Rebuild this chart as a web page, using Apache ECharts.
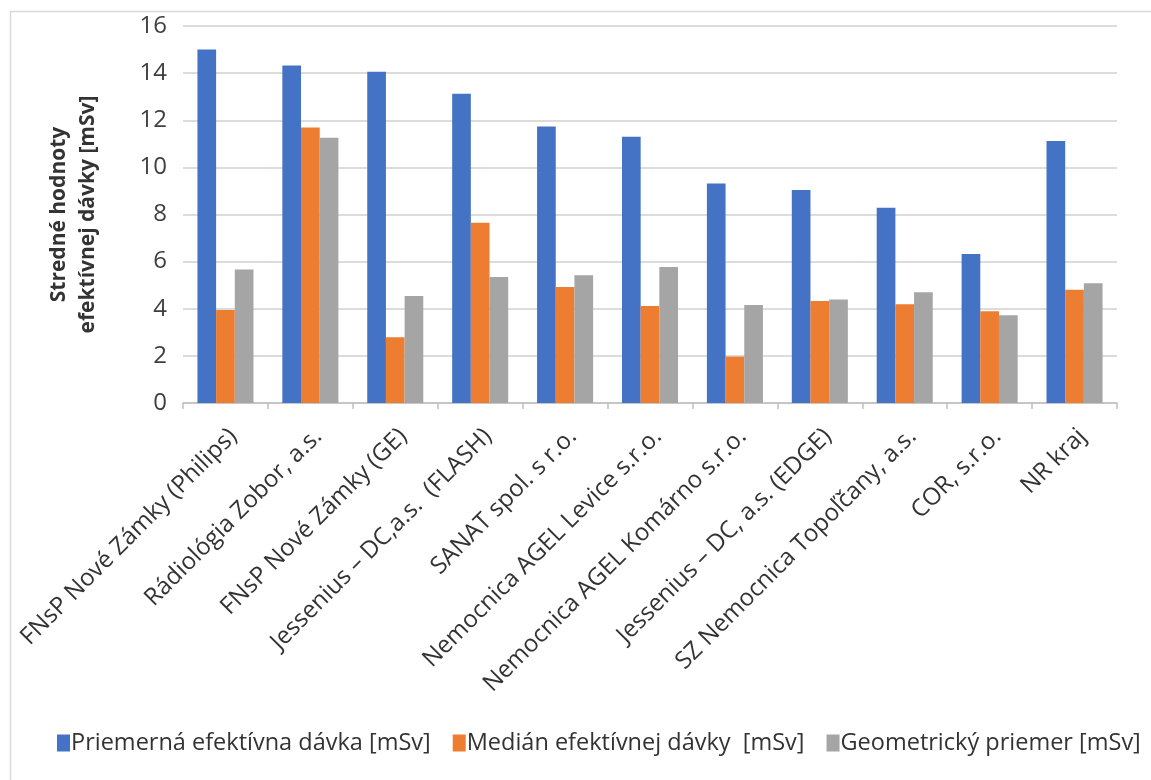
<!DOCTYPE html>
<html>
<head>
<meta charset="utf-8">
<script src="https://cdn.jsdelivr.net/npm/echarts@6/dist/echarts.min.js"></script>
<style>
html,body{margin:0;padding:0;background:#fff;}
#chart{width:1151px;height:780px;}
</style>
</head>
<body>
<div id="chart"></div>
<script>
const categories = [
  "FNsP Nové Zámky (Philips)",
  "Rádiológia Zobor, a.s.",
  "FNsP Nové Zámky (GE)",
  "Jessenius – DC,a.s.  (FLASH)",
  "SANAT spol. s r.o.",
  "Nemocnica AGEL Levice s.r.o.",
  "Nemocnica AGEL Komárno s.r.o.",
  "Jessenius – DC, a.s. (EDGE)",
  "SZ Nemocnica Topoľčany, a.s.",
  "COR, s.r.o.",
  "NR kraj"
];
const seriesNames = [
  "Priemerná efektívna dávka [mSv]",
  "Medián efektívnej dávky  [mSv]",
  "Geometrický priemer [mSv]"
];
const priemerna = [15.0, 14.32, 14.06, 13.12, 11.73, 11.30, 9.32, 9.04, 8.29, 6.32, 11.12];
const median = [3.95, 11.69, 2.79, 7.65, 4.92, 4.12, 1.97, 4.33, 4.19, 3.89, 4.81];
const geometricky = [5.67, 11.26, 4.54, 5.35, 5.42, 5.77, 4.16, 4.39, 4.70, 3.72, 5.08];
const yTicks = [0, 2, 4, 6, 8, 10, 12, 14, 16];
const colors = ["#4472C4", "#ED7D31", "#A5A5A5"];

const chart = echarts.init(document.getElementById('chart'), null, {renderer: 'canvas'});
const font = "'Open Sans', 'Noto Sans', sans-serif";
chart.setOption({
  animation: false,
  color: colors,
  textStyle: {fontFamily: font},
  graphic: [{
    type: 'rect', left: 8, top: 9, shape: {width: 1170, height: 800},
    style: {fill: 'none', stroke: '#d9d9d9', lineWidth: 1.5}, silent: true, z: -1
  }],
  legend: {
    bottom: 20, left: 52,
    itemWidth: 13, itemHeight: 17, itemGap: 22,
    icon: 'rect',
    textStyle: {fontFamily: font, fontSize: 23.5, color: '#333', padding: [0, 0, 0, -4]},
    data: seriesNames
  },
  grid: {left: 183, right: 34, top: 26, bottom: 377, containLabel: false},
  xAxis: {
    type: 'category',
    data: categories,
    axisLine: {lineStyle: {color: '#bfbfbf', width: 1.5}},
    axisTick: {show: true, length: 6, lineStyle: {color: '#bfbfbf', width: 1.5}},
    axisLabel: {rotate: 45, interval: 0, fontFamily: font, fontSize: 24, color: '#333', margin: 22,
      verticalAlign: 'top', lineHeight: 22}
  },
  yAxis: {
    type: 'value', min: 0, max: 16, interval: 2,
    name: 'Stredné hodnoty\nefektívnej dávky [mSv]',
    nameLocation: 'middle', nameRotate: 90, nameGap: 80,
    nameTextStyle: {fontFamily: font, fontSize: 21, fontWeight: 'bold', color: '#333', lineHeight: 29},
    axisLine: {show: false},
    axisTick: {show: false},
    axisLabel: {fontFamily: font, fontSize: 24, color: '#404040', margin: 16,
      formatter: v => yTicks.includes(v) ? String(v) : ''},
    splitLine: {lineStyle: {color: '#d0d0d0', width: 1.5}}
  },
  series: [
    {name: seriesNames[0], type: 'bar', data: priemerna, barGap: '0%', barCategoryGap: '34%'},
    {name: seriesNames[1], type: 'bar', data: median, barGap: '0%', barCategoryGap: '34%'},
    {name: seriesNames[2], type: 'bar', data: geometricky, barGap: '0%', barCategoryGap: '34%'}
  ]
});
</script>
</body>
</html>
